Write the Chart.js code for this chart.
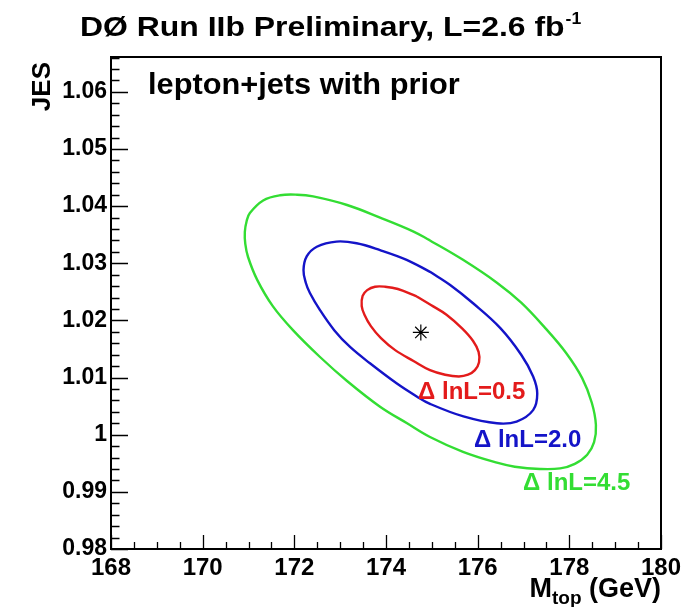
<!DOCTYPE html>
<html><head><meta charset="utf-8">
<script src="https://cdn.jsdelivr.net/npm/chart.js@4.4.1/dist/chart.umd.min.js"></script>
<style>html,body{margin:0;padding:0;background:#fff;}#wrap{width:690px;height:607px;position:relative;}</style>
</head><body><div id="wrap"><canvas id="c" width="690" height="607"></canvas></div>
<script>
// ---- data ----
const xTicks = [168, 170, 172, 174, 176, 178, 180];
const yTicks = [0.98, 0.99, 1.00, 1.01, 1.02, 1.03, 1.04, 1.05, 1.06];
const xRange = [168, 180];
const yRange = [0.98, 1.0661];

const bestFitX = [174.76];
const bestFitY = [1.0179];

// Delta lnL = 0.5 contour (red)
const c05X = [174.67,174.98,175.32,175.66,175.90,176.02,176.03,175.94,175.79,175.59,175.29,174.96,174.60,174.20,173.89,173.67,173.53,173.47,173.49,173.59,173.76,173.98,174.26,174.67];
const c05Y = [1.0242,1.0227,1.0210,1.0186,1.0164,1.0145,1.0127,1.0113,1.0105,1.0102,1.0105,1.0113,1.0129,1.0148,1.0169,1.0190,1.0210,1.0225,1.0243,1.0253,1.0259,1.0259,1.0255,1.0242];
// Delta lnL = 2.0 contour (blue)
const c20X = [174.96,175.40,175.90,176.49,176.95,177.21,177.30,177.21,176.85,176.42,175.69,174.96,174.67,174.23,173.65,173.21,172.87,172.56,172.34,172.25,172.20,172.27,172.49,172.92,173.36,173.87,174.45,174.96];
const c20Y = [1.0285,1.0262,1.0230,1.0187,1.0140,1.0102,1.0072,1.0043,1.0023,1.0020,1.0032,1.0054,1.0067,1.0090,1.0125,1.0154,1.0183,1.0218,1.0248,1.0266,1.0288,1.0312,1.0329,1.0338,1.0335,1.0323,1.0306,1.0285];
// Delta lnL = 4.5 contour (green)
const c45X = [174.96,175.68,176.42,176.95,177.47,177.93,178.28,178.49,178.58,178.54,178.39,178.12,177.80,177.36,176.81,176.42,175.68,174.96,174.46,173.87,173.15,172.56,171.97,171.53,171.19,170.99,170.93,170.92,170.96,171.03,171.32,171.69,172.06,172.41,173.15,173.87,174.59,174.96];
const c45Y = [1.0340,1.0306,1.0266,1.0231,1.0187,1.0143,1.0099,1.0056,1.0017,0.9987,0.9965,0.9949,0.9941,0.9940,0.9944,0.9951,0.9970,0.9996,1.0020,1.0049,1.0094,1.0136,1.0183,1.0225,1.0271,1.0311,1.0334,1.0355,1.0374,1.0388,1.0410,1.0419,1.0420,1.0417,1.0402,1.0380,1.0356,1.0340];

const contourNames = ['\u0394 lnL=0.5', '\u0394 lnL=2.0', '\u0394 lnL=4.5'];

// ---- build ----
const pts = (xs, ys) => xs.map((x, i) => ({x: x, y: ys[i]}));
const RED = '#e31b1b', BLUE = '#1414c8', GREEN = '#33dd33';
const FONT = "'Liberation Sans', Arial, Helvetica, sans-serif";

function lineSet(label, xs, ys, color) {
  return {label, data: pts(xs, ys), showLine: true, borderColor: color, borderWidth: 2.4,
    pointRadius: 0, tension: 0.38, fill: false};
}

function stretchedText(ctx, text, x, y, sx) {
  ctx.save(); ctx.translate(x, y); ctx.scale(sx, 1); ctx.fillText(text, 0, 0);
  const w = ctx.measureText(text).width * sx; ctx.restore(); return w;
}

const decor = {
  id: 'decor',
  afterDraw(chart) {
    const ctx = chart.ctx, a = chart.chartArea;
    const xs = chart.scales.x, ys = chart.scales.y;
    ctx.save();
    // ticks (inside frame, ROOT style)
    ctx.strokeStyle = '#000'; ctx.lineWidth = 1.3;
    ctx.beginPath();
    for (let k = 0; k <= 24; k++) {
      const v = xRange[0] + k * 0.5;
      const px = Math.round(xs.getPixelForValue(v)) + 0.5;
      const len = (k % 4 === 0) ? 14 : 7;
      ctx.moveTo(px, a.bottom); ctx.lineTo(px, a.bottom - len);
    }
    for (let k = 0; k <= 43; k++) {
      const v = yRange[0] + k * 0.002;
      if (v > yRange[1]) break;
      const py = Math.round(ys.getPixelForValue(v)) + 0.5;
      const len = (k % 5 === 0) ? 17 : 8.5;
      ctx.moveTo(a.left, py); ctx.lineTo(a.left + len, py);
    }
    ctx.stroke();
    // frame
    ctx.lineWidth = 2;
    ctx.strokeRect(a.left, a.top, a.right - a.left, a.bottom - a.top);

    // title
    ctx.fillStyle = '#000';
    ctx.textBaseline = 'alphabetic'; ctx.textAlign = 'left';
    ctx.font = 'bold 28px ' + FONT;
    const tw = stretchedText(ctx, 'D\u00D8 Run IIb Preliminary, L=2.6 fb', 80, 36, 1.14);
    ctx.font = 'bold 16px ' + FONT;
    stretchedText(ctx, '-1', 80 + tw + 1, 24, 1.1);

    // inner label
    ctx.font = 'bold 29px ' + FONT;
    stretchedText(ctx, 'lepton+jets with prior', 148, 94, 1.06);

    // contour labels
    ctx.font = 'bold 24px ' + FONT;
    ctx.textBaseline = 'middle';
    ctx.fillStyle = RED;   ctx.fillText(contourNames[0], xs.getPixelForValue(174.70), ys.getPixelForValue(1.00748));
    ctx.fillStyle = BLUE;  ctx.fillText(contourNames[1], xs.getPixelForValue(175.92), ys.getPixelForValue(0.99908));
    ctx.fillStyle = GREEN; ctx.fillText(contourNames[2], xs.getPixelForValue(176.99), ys.getPixelForValue(0.99155));

    // x-axis title  M_top (GeV), right aligned at axis end
    ctx.fillStyle = '#000';
    ctx.textBaseline = 'alphabetic';
    ctx.font = 'bold 27px ' + FONT;
    const m = 'M', g = ' (GeV)';
    const mw = ctx.measureText(m).width, gw = ctx.measureText(g).width;
    ctx.font = 'bold 19px ' + FONT;
    const sw = ctx.measureText('top').width;
    let x0 = a.right - (mw + sw + gw);
    const base = 597;
    ctx.font = 'bold 27px ' + FONT; ctx.fillText(m, x0, base);
    ctx.font = 'bold 19px ' + FONT; ctx.fillText('top', x0 + mw, base + 7);
    ctx.font = 'bold 27px ' + FONT; ctx.fillText(g, x0 + mw + sw, base);

    // y-axis title JES (rotated, aligned to top)
    ctx.translate(50, a.top + 5);
    ctx.rotate(-Math.PI / 2);
    ctx.textAlign = 'right';
    ctx.font = 'bold 26px ' + FONT;
    ctx.fillText('JES', 0, 0);
    ctx.restore();
  }
};

new Chart(document.getElementById('c'), {
  type: 'scatter',
  data: {
    datasets: [
      lineSet(contourNames[2], c45X, c45Y, GREEN),
      lineSet(contourNames[1], c20X, c20Y, BLUE),
      lineSet(contourNames[0], c05X, c05Y, RED),
      {label: 'best fit', data: pts(bestFitX, bestFitY), pointStyle: 'star', pointRadius: 8,
       borderColor: '#000', backgroundColor: '#000', borderWidth: 1.2, showLine: false}
    ]
  },
  options: {
    responsive: false, animation: false, devicePixelRatio: 1,
    layout: {padding: {top: 57, right: 29, left: 0, bottom: 0}},
    plugins: {legend: {display: false}, tooltip: {enabled: false}, title: {display: false}},
    scales: {
      x: {type: 'linear', min: xRange[0], max: xRange[1],
        afterBuildTicks: s => { s.ticks = xTicks.map(v => ({value: v})); },
        afterFit: s => { s.height = 58; },
        ticks: {color: '#000', font: {family: FONT, weight: 'bold', size: 24}, padding: 5,
          maxRotation: 0, autoSkip: false, callback: v => String(v)},
        grid: {display: false, drawTicks: false}, border: {display: false}},
      y: {type: 'linear', min: yRange[0], max: yRange[1],
        afterBuildTicks: s => { s.ticks = yTicks.map(v => ({value: v})); },
        afterFit: s => { s.width = 111; },
        ticks: {color: '#000', font: {family: FONT, weight: 'bold', size: 23}, padding: 4,
          autoSkip: false, callback: v => String(parseFloat(Number(v).toFixed(2)))},
        grid: {display: false, drawTicks: false}, border: {display: false}}
    }
  },
  plugins: [decor]
});
</script>
</body></html>
